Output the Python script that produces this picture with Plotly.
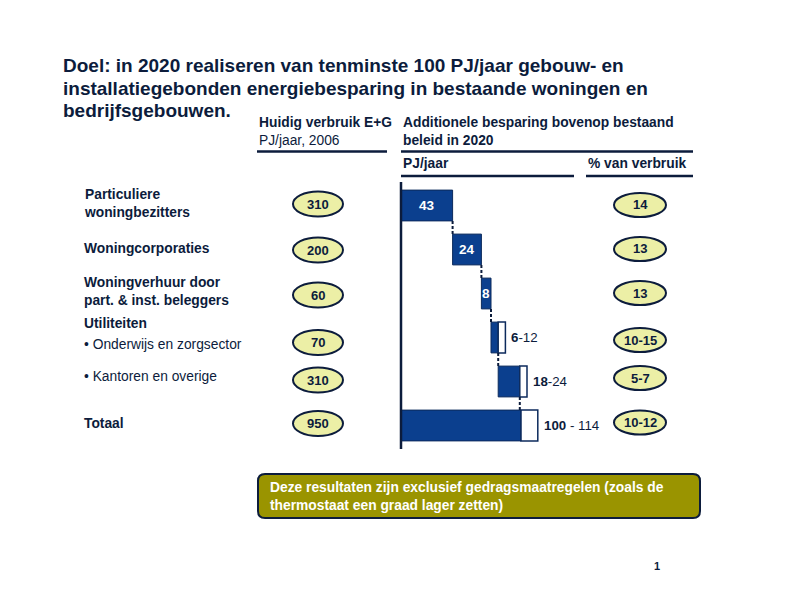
import plotly.graph_objects as go

# ---------------- data ----------------
categories = [
    "<b>Particuliere<br>woningbezitters</b>",
    "<b>Woningcorporaties</b>",
    "<b>Woningverhuur door<br>part. &amp; inst. beleggers</b>",
    "• Onderwijs en zorgsector",
    "• Kantoren en overige",
    "<b>Totaal</b>",
]
verbruik_2006 = [310, 200, 60, 70, 310, 950]          # PJ/jaar, 2006
besparing_laag = [43, 24, 8, 6, 18, 100]              # PJ/jaar (low)
besparing_hoog = [43, 24, 8, 12, 24, 114]             # PJ/jaar (high)
pct_verbruik = ["14", "13", "13", "10-15", "5-7", "10-12"]
range_labels = ["", "", "", "<b>6</b>-12", "<b>18</b>-24", "<b>100</b> - 114"]

# ---------------- style ----------------
W, H = 792, 606
NAVY = "#0c1c3c"
BAR = "#0b3f8e"
BAR_EDGE = "#0c2a5c"
OVAL = "#ecefa6"
OLIVE = "#9a9400"
FONT = "Liberation Sans, Arial, sans-serif"
FS = 13.8

def px(x):
    return x / W

def py(y):
    return 1 - y / H

rows = list(range(len(categories)))
n_steps = len(categories) - 1
bases = []
acc = 0
for i in range(n_steps):
    bases.append(acc)
    acc += besparing_laag[i]
bases.append(0)  # total starts at zero

fig = go.Figure()

# dark (low) part of bars
fig.add_trace(go.Bar(
    y=rows, x=besparing_laag, base=bases, orientation="h", width=0.70,
    marker=dict(color=BAR, line=dict(color=BAR_EDGE, width=1)),
    hoverinfo="skip", showlegend=False,
))
# white (range) part
rng = [h - l if h > l else None for l, h in zip(besparing_laag, besparing_hoog)]
rng_base = [b + l for b, l in zip(bases, besparing_laag)]
fig.add_trace(go.Bar(
    y=rows, x=rng, base=rng_base, orientation="h", width=0.70,
    marker=dict(color="white", line=dict(color=BAR_EDGE, width=1.5)),
    hoverinfo="skip", showlegend=False,
))
# dashed connectors
for i in range(n_steps):
    xc = bases[i] + besparing_laag[i]
    fig.add_trace(go.Scatter(
        x=[xc, xc], y=[i + 0.35, i + 0.65], mode="lines",
        line=dict(color=NAVY, width=2, dash="3px,2px"),
        hoverinfo="skip", showlegend=False,
    ))

ann = []

def note(x, y, text, size=FS, color=NAVY, xanchor="left", yanchor="middle", **kw):
    ann.append(dict(x=x, y=y, xref="paper", yref="paper", text=text, showarrow=False,
                    xanchor=xanchor, yanchor=yanchor, align="left",
                    font=dict(family=FONT, size=size, color=color), **kw))

# values inside bars
for i in range(n_steps):
    if besparing_laag[i] == besparing_hoog[i]:
        ann.append(dict(x=bases[i] + besparing_laag[i] / 2, y=i, xref="x", yref="y",
                        text=f"<b>{besparing_laag[i]}</b>", showarrow=False,
                        xanchor="center", yanchor="middle",
                        font=dict(family=FONT, size=13.5, color="white")))
# range labels outside
for i in rows:
    if range_labels[i]:
        ann.append(dict(x=bases[i] + besparing_hoog[i], y=i, xref="x", yref="y",
                        text=range_labels[i], showarrow=False, xanchor="left",
                        yanchor="middle", xshift=4,
                        font=dict(family=FONT, size=13.3, color=NAVY)))

# title lines
title_lines = [
    "Doel: in 2020 realiseren van tenminste 100 PJ/jaar gebouw- en",
    "installatiegebonden energiebesparing in bestaande woningen en",
    "bedrijfsgebouwen.",
]
for k, t in enumerate(title_lines):
    note(px(61), py(66 + 22.5 * k), f"<b>{t}</b>", size=19)

# headers
hdr = [
    (257, 123, "<b>Huidig verbruik E+G</b>"),
    (257, 140, "PJ/jaar, 2006"),
    (401, 123, "<b>Additionele besparing bovenop bestaand</b>"),
    (401, 140, "<b>beleid in 2020</b>"),
    (401, 163, "<b>PJ/jaar</b>"),
    (586, 163, "<b>% van verbruik</b>"),
]
for x, y, t in hdr:
    note(px(x), py(y), t)

# row labels
label_y = [203, 249, 291.5, 345, 376, 423]
for t, y in zip(categories, label_y):
    note(px(82), py(y), t)
note(px(82), py(323), "<b>Utiliteiten</b>")

shapes = []
# ovals
left_oval_y = [204, 250, 295, 342.5, 380, 423.5]
right_oval_y = [205, 249, 293, 340, 378, 422.5]
for v, y in zip(verbruik_2006, left_oval_y):
    shapes.append(dict(type="circle", xref="paper", yref="paper",
                       x0=px(293), x1=px(343), y0=py(y - 12.5), y1=py(y + 12.5),
                       fillcolor=OVAL, line=dict(color=NAVY, width=2)))
    note(px(318), py(y), f"<b>{v}</b>", size=13, xanchor="center")
for v, y in zip(pct_verbruik, right_oval_y):
    shapes.append(dict(type="circle", xref="paper", yref="paper",
                       x0=px(614), x1=px(666), y0=py(y - 12), y1=py(y + 12),
                       fillcolor=OVAL, line=dict(color=NAVY, width=2)))
    note(px(640), py(y), f"<b>{v}</b>", size=13, xanchor="center")

# header underlines
for x0, x1, y in [(257, 387, 151.5), (401, 693, 151.5), (401, 574, 176), (586, 693, 176)]:
    shapes.append(dict(type="line", xref="paper", yref="paper",
                       x0=px(x0), x1=px(x1), y0=py(y), y1=py(y),
                       line=dict(color=NAVY, width=2.5)))
# vertical axis line at zero
shapes.append(dict(type="line", xref="x", yref="paper", x0=0, x1=0,
                   y0=py(182), y1=py(449), line=dict(color=NAVY, width=2.5)))

# rounded note box
bx0, bx1, by0, by1, r = 258, 700, 474, 518, 7
pts = [
    ("M", [(bx0 + r, by0)]), ("L", [(bx1 - r, by0)]), ("Q", [(bx1, by0), (bx1, by0 + r)]),
    ("L", [(bx1, by1 - r)]), ("Q", [(bx1, by1), (bx1 - r, by1)]), ("L", [(bx0 + r, by1)]),
    ("Q", [(bx0, by1), (bx0, by1 - r)]), ("L", [(bx0, by0 + r)]), ("Q", [(bx0, by0), (bx0 + r, by0)]),
]
path = " ".join(cmd + " " + " ".join(f"{px(a):.5f},{py(b):.5f}" for a, b in p) for cmd, p in pts) + " Z"
shapes.append(dict(type="path", xref="paper", yref="paper", path=path,
                   fillcolor=OLIVE, line=dict(color=NAVY, width=2)))
note(px(268), py(496),
     "<b>Deze resultaten zijn exclusief gedragsmaatregelen (zoals de<br>"
     "thermostaat een graad lager zetten)</b>", color="white")

# page number
note(px(657), py(566), "<b>1</b>", size=11, xanchor="center")

# axes: 1.2 px per PJ, zero at x=401 px; rows 44 px apart, first at y=205.5 px
ppu = 1.2
x0v = -401 / ppu
fig.update_xaxes(range=[x0v, x0v + W / ppu], visible=False, fixedrange=True)
fig.update_yaxes(range=[(H - 205.5) / 44, -205.5 / 44], visible=False, fixedrange=True)

fig.update_layout(
    width=W, height=H, margin=dict(l=0, r=0, t=0, b=0),
    paper_bgcolor="white", plot_bgcolor="white",
    barmode="overlay", shapes=shapes, annotations=ann,
    font=dict(family=FONT, color=NAVY),
)
fig.write_html("out.html")
